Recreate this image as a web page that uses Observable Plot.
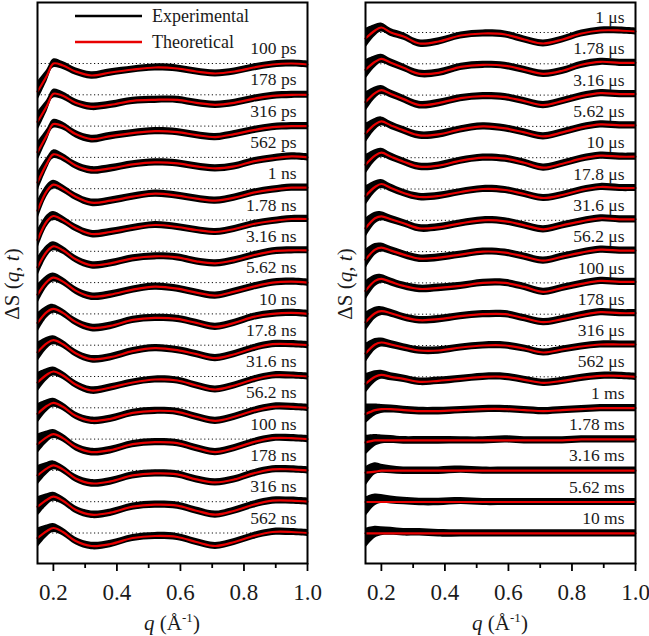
<!DOCTYPE html>
<html>
<head>
<meta charset="utf-8">
<script src="https://cdn.jsdelivr.net/npm/d3@7"></script>
<script src="https://cdn.jsdelivr.net/npm/@observablehq/plot@0.6"></script>
<style>
  html, body { margin: 0; padding: 0; background: white; }
  #wrap { display: flex; width: 649px; height: 636px; font-family: "Liberation Serif", serif; }
  svg { display: block; }
</style>
</head>
<body>
<div id="wrap"></div>
<script>
// scattering vector knots (Å^-1)
const q = [0.15, 0.18, 0.2, 0.23, 0.27, 0.32, 0.38, 0.45, 0.52, 0.59, 0.65, 0.71, 0.77, 0.83, 0.89, 0.95, 1.0];

// time-delay labels
const labelsLeft = ["100 ps", "178 ps", "316 ps", "562 ps", "1 ns", "1.78 ns", "3.16 ns", "5.62 ns", "10 ns", "17.8 ns", "31.6 ns", "56.2 ns", "100 ns", "178 ns", "316 ns", "562 ns"];
const labelsRight = ["1 μs", "1.78 μs", "3.16 μs", "5.62 μs", "10 μs", "17.8 μs", "31.6 μs", "56.2 μs", "100 μs", "178 μs", "316 μs", "562 μs", "1 ms", "1.78 ms", "3.16 ms", "5.62 ms", "10 ms"];

// vertical offset between successive curves (arb. units)
const offsetStep = 31.3;

// theoretical ΔS(q,t), arb. units, one row per time delay (left panel)
const theoLeft = [
  [-28, -12, 0, -2, -8, -12, -9, -6, -4, -5, -8, -10, -8, -4, -1, 0, -1],
  [-27, -11, 1, -1, -8, -12, -10, -6, -5, -5, -8, -10, -8, -4, -1, 0, 0],
  [-26, -9, 2, 0, -8, -13, -10, -7, -5, -6, -9, -11, -8, -4, -1, 0, 0],
  [-25, -6, 3, 0, -8, -13, -11, -7, -5, -6, -9, -11, -9, -4, -1, 1, 0],
  [-22, -2, 4, 0, -8, -14, -12, -8, -5, -7, -10, -12, -9, -4, -1, 1, 1],
  [-20, -1, 4, 0, -8, -14, -12, -8, -5, -7, -10, -12, -9, -4, -1, 1, 1],
  [-16, 0, 5, 1, -8, -14, -12, -7, -5, -6, -10, -12, -9, -4, 0, 1, 1],
  [-12, 1, 5, 1, -8, -14, -12, -7, -4, -6, -10, -13, -9, -4, 0, 1, 0],
  [-9, 2, 5, 1, -8, -14, -12, -6, -4, -5, -9, -13, -9, -3, 0, 1, 0],
  [-7, 2, 5, 1, -8, -14, -12, -6, -3, -5, -9, -13, -9, -3, 1, 1, 0],
  [-6, 2, 5, 1, -8, -14, -11, -6, -3, -4, -9, -13, -9, -3, 1, 1, 0],
  [-6, 2, 5, 1, -8, -13, -11, -5, -3, -4, -9, -13, -9, -3, 1, 1, 0],
  [-5, 2, 5, 1, -8, -13, -11, -5, -3, -4, -9, -13, -9, -3, 1, 1, 0],
  [-5, 2, 5, 1, -8, -13, -11, -5, -3, -4, -9, -12, -9, -3, 1, 1, 0],
  [-5, 2, 5, 1, -8, -13, -11, -5, -3, -4, -9, -13, -9, -3, 1, 1, 0],
  [-5, 2, 5, 1, -8, -13, -11, -5, -3, -4, -9, -13, -9, -3, 1, 1, 0]
];

// theoretical ΔS(q,t), right panel
const theoRight = [
  [-6, 2, 5, 0, -4, -11, -9, -3, -1, -2, -7, -11, -7, -1, 2, 2, 1],
  [-6, 2, 5, 1, -4, -10, -9, -3, -1, -2, -6, -10, -7, -1, 2, 1, 1],
  [-7, 2, 5, 1, -4, -10, -8, -3, -1, -2, -6, -10, -6, -1, 2, 1, 1],
  [-7, 2, 5, 1, -4, -9, -8, -3, 0, -2, -6, -10, -6, -1, 2, 1, 1],
  [-7, 2, 5, 1, -4, -9, -8, -3, 0, -1, -5, -10, -6, -1, 2, 1, 1],
  [-7, 2, 5, 1, -4, -8, -7, -3, 0, -1, -5, -9, -6, -1, 2, 1, 1],
  [-8, 2, 4, 1, -3, -8, -7, -3, 0, -1, -5, -9, -5, -1, 2, 1, 1],
  [-8, 2, 4, 1, -3, -7, -6, -3, 0, -1, -5, -9, -5, -1, 2, 1, 1],
  [-8, 2, 4, 1, -3, -6, -5, -3, 0, 0, -4, -9, -5, -1, 2, 1, 1],
  [-8, 1, 3, 1, -3, -6, -5, -2, 0, 0, -4, -8, -5, -1, 2, 1, 1],
  [-8, 1, 3, 1, -2, -5, -5, -2, 0, 0, -3, -7, -4, -1, 1, 1, 1],
  [-7, 0, 2, 0, -2, -5, -4, -2, 0, 0, -3, -6, -4, -1, 1, 1, 0],
  [-6, -2, -1, -1, -2, -3, -3, -2, -1, -1, -2, -3, -2, -1, 0, 0, 0],
  [-3, -1, -1, -1, -1, -1, -1, -1, -1, -1, -1, -1, -1, 0, 0, 0, 0],
  [-2, -1, 0, 0, 0, 0, 0, 0, 0, 0, 0, 0, 0, 0, 0, 0, 0],
  [0, 0, 0, 0, 0, 0, 0, 0, 0, 0, 0, 0, 0, 0, 0, 0, 0],
  [0, 0, 0, 0, 0, 0, 0, 0, 0, 0, 0, 0, 0, 0, 0, 0, 0]
];

// experimental curves that deviate visibly from theory (late ms delays)
const expLateRight = {
  "1.78 ms": [-6, -1, 0, 0, -1, -1, -1, -1, -1, 0, -1, -1, -1, 0, 0, 0, 0],
  "3.16 ms": [-6, 2, 2, 1, 0, 0, 0, 1, 0, 0, 0, 0, 0, 0, 0, 0, 0],
  "5.62 ms": [-5, 2, 3, 2, 1, 0, 0, 1, 0, 0, 0, 0, 0, 0, 0, 0, 0],
  "10 ms":   [-5, 1, 2, 2, 1, 1, 0, 0, 0, 0, 0, 0, 0, 0, 0, 0, 0]
};

// experimental error (half width) at each q knot
const errExp = [10, 6, 4.5, 4, 3.8, 3.8, 3.8, 3.6, 3.6, 3.6, 3.6, 3.6, 3.6, 3.6, 3.6, 3.6, 3.6];

const xTicks = [0.2, 0.4, 0.6, 0.8, 1.0];
const xMinorTicks = [0.3, 0.5, 0.7, 0.9];

const FONT = "Liberation Serif";

function buildRows(labels, theo, expOverride) {
  const rows = [];
  labels.forEach((lab, i) => {
    const base = -i * offsetStep;
    const ex = expOverride[lab] || theo[i];
    q.forEach((qq, j) => {
      rows.push({
        series: lab, q: qq,
        theo: base + theo[i][j],
        lo: base + ex[j] - errExp[j],
        hi: base + ex[j] + errExp[j]
      });
    });
  });
  return rows;
}

function makePanel(labels, theo, expOverride, opts) {
  const rows = buildRows(labels, theo, expOverride);
  const baselines = labels.map((lab, i) => ({label: lab, y: -i * offsetStep}));
  const svg = Plot.plot({
    width: opts.width, height: 636,
    marginTop: 2, marginBottom: 73, marginLeft: opts.marginLeft, marginRight: opts.marginRight,
    style: {fontFamily: FONT, color: "black", background: "white", overflow: "visible"},
    x: {domain: [0.15, 1.0]},
    y: {domain: opts.yDomain, axis: null},
    marks: [
      Plot.ruleY(baselines, {y: "y", stroke: "#111", strokeWidth: 1, strokeDasharray: "1.2,2.6"}),
      Plot.areaY(rows, {x: "q", y1: "lo", y2: "hi", z: "series", curve: "catmull-rom", fill: "black"}),
      Plot.line(rows, {x: "q", y: "theo", z: "series", curve: "catmull-rom", stroke: "#e80000", strokeWidth: 2.2}),
      Plot.text(baselines, {y: "y", text: "label", frameAnchor: "right", textAnchor: "end", dx: -11, dy: -15, fontSize: 17.5, fill: "#1a1a1a"}),
      Plot.frame({stroke: "black", strokeWidth: 2}),
      Plot.axisX({ticks: xTicks, tickFormat: d3.format(".1f"), tickSize: 8, tickPadding: 12, fontSize: 23, label: null, strokeWidth: 1.8, fill: "#1a1a1a"}),
      Plot.axisX({ticks: xMinorTicks, tickSize: 5, text: null, label: null, strokeWidth: 1.8})
    ]
  });
  const s = d3.select(svg);
  const x0 = opts.marginLeft, x1 = opts.width - opts.marginRight;
  // x axis title
  const xt = s.append("text").attr("x", (x0 + x1) / 2).attr("y", 630)
    .attr("text-anchor", "middle").attr("font-size", 21).attr("font-family", FONT).attr("fill", "#1a1a1a");
  xt.append("tspan").attr("font-style", "italic").text("q");
  xt.append("tspan").text(" (Å");
  xt.append("tspan").attr("font-size", 13).attr("dy", -8).text("-1");
  xt.append("tspan").attr("dy", 8).text(")");
  // y axis title
  const yt = s.append("text").attr("transform", `translate(${opts.yTitleX},284) rotate(-90)`)
    .attr("text-anchor", "middle").attr("font-size", 21).attr("font-family", FONT).attr("fill", "#1a1a1a");
  yt.append("tspan").text("ΔS (");
  yt.append("tspan").attr("font-style", "italic").text("q");
  yt.append("tspan").text(", ");
  yt.append("tspan").attr("font-style", "italic").text("t");
  yt.append("tspan").text(")");
  return svg;
}

const left = makePanel(labelsLeft, theoLeft, {}, {width: 324, marginLeft: 37, marginRight: 17, yDomain: [-500, 61], yTitleX: 19});
const right = makePanel(labelsRight, theoRight, expLateRight, {width: 325, marginLeft: 41, marginRight: 14, yDomain: [-531, 30], yTitleX: 28});

// legend inside left panel
const lg = d3.select(left);
const legendItems = [{name: "Experimental", color: "black", y: 16}, {name: "Theoretical", color: "#e80000", y: 42}];
legendItems.forEach(d => {
  lg.append("line").attr("x1", 75).attr("x2", 142).attr("y1", d.y).attr("y2", d.y)
    .attr("stroke", d.color).attr("stroke-width", 2.5);
  lg.append("text").attr("x", 152).attr("y", d.y + 6).attr("font-size", 18)
    .attr("text-anchor", "start")
    .attr("font-family", FONT).attr("fill", "#1a1a1a").text(d.name);
});

document.getElementById("wrap").append(left, right);
</script>
</body>
</html>
